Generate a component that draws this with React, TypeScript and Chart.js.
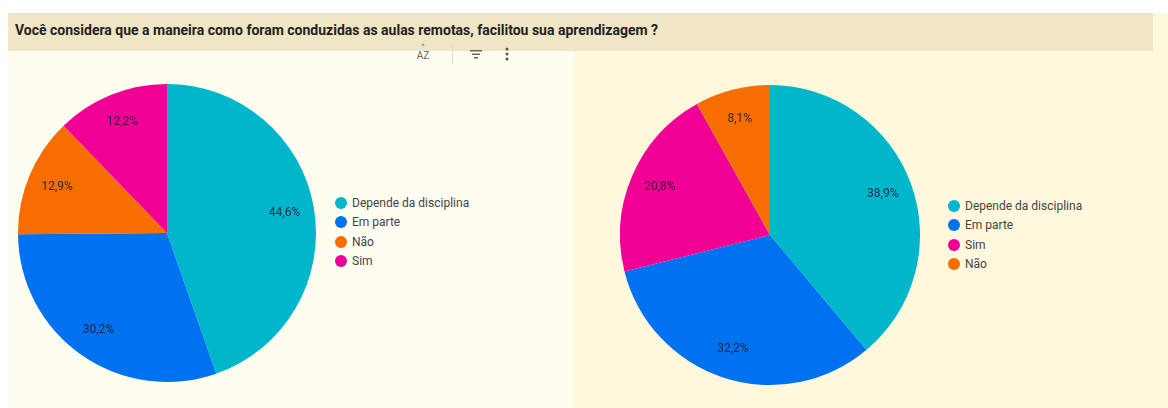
import React, { useEffect, useRef } from "react";
import { Chart, registerables } from "chart.js";

Chart.register(...registerables);

const titleText = "Você considera que a maneira como foram conduzidas as aulas remotas, facilitou sua aprendizagem ?";

const leftCategories = ["Depende da disciplina", "Em parte", "Não", "Sim"];
const leftValues = [44.6, 30.2, 12.9, 12.2];
const leftColors = ["#00b6cb", "#0072f0", "#f66d00", "#f10096"];

const rightCategories = ["Depende da disciplina", "Em parte", "Sim", "Não"];
const rightValues = [38.9, 32.2, 20.8, 8.1];
const rightColors = ["#00b6cb", "#0072f0", "#f10096", "#f66d00"];

const FONT = "Roboto, 'Noto Sans', sans-serif";

const sliceLabelPlugin = {
  id: "sliceLabels",
  afterDatasetsDraw(chart: any) {
    const ctx = chart.ctx;
    const meta = chart.getDatasetMeta(0);
    const data = chart.data.datasets[0].data as number[];
    ctx.save();
    ctx.font = `12px ${FONT}`;
    ctx.fillStyle = "rgba(25,25,45,0.85)";
    ctx.textAlign = "center";
    ctx.textBaseline = "middle";
    meta.data.forEach((arc: any, i: number) => {
      const p = arc.getProps(["x", "y", "startAngle", "endAngle", "outerRadius"], true);
      const mid = (p.startAngle + p.endAngle) / 2;
      const r = p.outerRadius * 0.8;
      const x = p.x + Math.cos(mid) * r;
      const y = p.y + Math.sin(mid) * r;
      ctx.fillText(data[i].toFixed(1).replace(".", ",") + "%", x, y);
    });
    ctx.restore();
  },
};

function Pie(props: { labels: string[]; values: number[]; colors: string[]; left: number; top: number; size: number }) {
  const ref = useRef<HTMLCanvasElement | null>(null);
  useEffect(() => {
    if (!ref.current) return;
    const chart = new Chart(ref.current, {
      type: "pie",
      data: {
        labels: props.labels,
        datasets: [
          {
            data: props.values,
            backgroundColor: props.colors,
            borderWidth: 0,
          },
        ],
      },
      options: {
        animation: false,
        responsive: false,
        maintainAspectRatio: false,
        layout: { padding: 0 },
        plugins: { legend: { display: false }, tooltip: { enabled: false } },
      },
      plugins: [sliceLabelPlugin],
    });
    return () => chart.destroy();
  }, []);
  return (
    <canvas
      ref={ref}
      width={props.size}
      height={props.size}
      style={{ position: "absolute", left: props.left, top: props.top, width: props.size, height: props.size }}
    />
  );
}

function Legend(props: { labels: string[]; colors: string[]; left: number; top: number }) {
  return (
    <div style={{ position: "absolute", left: props.left, top: props.top }}>
      {props.labels.map((l, i) => (
        <div key={l} style={{ display: "flex", alignItems: "center", height: 19.5 }}>
          <span
            style={{
              display: "inline-block",
              width: 12,
              height: 12,
              borderRadius: 6,
              background: props.colors[i],
              marginRight: 5,
            }}
          />
          <span style={{ font: `12px ${FONT}`, color: "#444" }}>{l}</span>
        </div>
      ))}
    </div>
  );
}

export default function App() {
  return (
    <div style={{ position: "absolute", left: 0, top: 0, width: 1168, height: 408, background: "#ffffff", overflow: "hidden" }}>
      <div style={{ position: "absolute", left: 573, top: 13, width: 595, height: 395, background: "#fff8dc" }} />
      <div style={{ position: "absolute", left: 8, top: 51, width: 565, height: 357, background: "#fffcf0" }} />
      <div style={{ position: "absolute", left: 8, top: 13, width: 1145, height: 38, background: "#f0e5c4" }} />
      <div
        style={{
          position: "absolute",
          left: 15,
          top: 22,
          font: `bold 14px ${FONT}`,
          color: "#222",
          whiteSpace: "nowrap",
        }}
      >
        {titleText}
      </div>
      {/* toolbar icons */}
      <div style={{ position: "absolute", left: 415, top: 45, font: `10px ${FONT}`, color: "#666", lineHeight: "11px", textAlign: "center", width: 16 }}>
        <div style={{ fontSize: 7, lineHeight: "5px" }}>^</div>
        <div>AZ</div>
      </div>
      <div style={{ position: "absolute", left: 452, top: 44, width: 1, height: 20, background: "#ddd" }} />
      <svg style={{ position: "absolute", left: 470, top: 49 }} width="12" height="10">
        <rect x="0" y="1" width="12" height="1.5" fill="#666" />
        <rect x="2" y="4.5" width="8" height="1.5" fill="#666" />
        <rect x="4" y="8" width="4" height="1.5" fill="#666" />
      </svg>
      <svg style={{ position: "absolute", left: 504, top: 47 }} width="6" height="14">
        <circle cx="3" cy="2" r="1.5" fill="#555" />
        <circle cx="3" cy="7" r="1.5" fill="#555" />
        <circle cx="3" cy="12" r="1.5" fill="#555" />
      </svg>

      <Pie labels={leftCategories} values={leftValues} colors={leftColors} left={18} top={84} size={298} />
      <Legend labels={leftCategories} colors={leftColors} left={335} top={193} />

      <Pie labels={rightCategories} values={rightValues} colors={rightColors} left={620} top={85} size={300} />
      <Legend labels={rightCategories} colors={rightColors} left={948} top={196} />
    </div>
  );
}
